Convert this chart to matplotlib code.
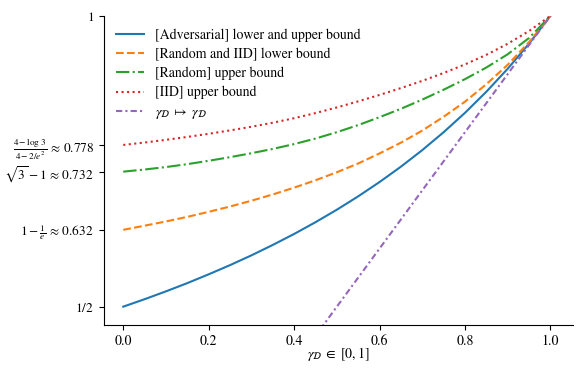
import numpy as np
import matplotlib
matplotlib.use("Agg")
import matplotlib.pyplot as plt

plt.rcParams['font.family'] = ['STIXGeneral', 'DejaVu Serif']
plt.rcParams['mathtext.fontset'] = 'stix'
plt.rcParams['font.size'] = 10

gamma = [0.0, 0.05, 0.1, 0.15, 0.2, 0.25, 0.3, 0.35, 0.4, 0.45, 0.5,
         0.55, 0.6, 0.65, 0.7, 0.75, 0.8, 0.85, 0.9, 0.95, 1.0]

# curve values
adversarial = [0.5000, 0.5128, 0.5263, 0.5405, 0.5556, 0.5714, 0.5882, 0.6061, 0.6250, 0.6452, 0.6667,
               0.6897, 0.7143, 0.7407, 0.7692, 0.8000, 0.8333, 0.8696, 0.9091, 0.9524, 1.0000]
random_iid_lower = [0.6321, 0.6392, 0.6465, 0.6544, 0.6630, 0.6722, 0.6821, 0.6929, 0.7046, 0.7173, 0.7311,
                    0.7462, 0.7635, 0.7820, 0.8028, 0.8265, 0.8525, 0.8825, 0.9160, 0.9550, 1.0000]
random_upper = [0.7321, 0.7358, 0.7400, 0.7450, 0.7508, 0.7570, 0.7638, 0.7712, 0.7795, 0.7890, 0.8000,
                0.8122, 0.8258, 0.8402, 0.8560, 0.8730, 0.8912, 0.9112, 0.9340, 0.9620, 1.0000]
iid_upper = [0.7780, 0.7822, 0.7868, 0.7918, 0.7972, 0.8030, 0.8093, 0.8162, 0.8240, 0.8328, 0.8425,
             0.8530, 0.8640, 0.8758, 0.8882, 0.9018, 0.9165, 0.9330, 0.9520, 0.9740, 1.0000]

# identity line
ident_x = [0.4, 1.0]
ident_y = [0.4, 1.0]

ytick_vals = [0.5, 1 - 1/np.e, np.sqrt(3) - 1, 0.778, 1.0]
ytick_labels = [r'$1/2$', r'$1-\frac{1}{e}\,\approx\,0.632$', r'$\sqrt{3}-1\,\approx\,0.732$',
                r'$\frac{4-\log\,3}{4-2/e^2}\,\approx\,0.778$', r'$1$']

fig = plt.figure(figsize=(5.82, 3.77), dpi=100)
ax = fig.add_axes([0.178, 0.138, 0.806, 0.82])

ax.plot(gamma, adversarial, color='C0', linestyle='-', linewidth=1.5,
        label='[Adversarial] lower and upper bound')
ax.plot(gamma, random_iid_lower, color='C1', linestyle='--', linewidth=1.5,
        label='[Random and IID] lower bound')
ax.plot(gamma, random_upper, color='C2', linestyle='-.', linewidth=1.5,
        label='[Random] upper bound')
ax.plot(gamma, iid_upper, color='C3', linestyle=':', linewidth=1.5,
        label='[IID] upper bound')
ax.plot(ident_x, ident_y, color='C4', linestyle=(0, (3, 1.5, 1, 1.5)), linewidth=1.5,
        label=r'$\gamma_{\mathcal{D}} \;\mapsto\; \gamma_{\mathcal{D}}$')

ax.set_xlim(-0.046, 1.052)
ax.set_ylim(0.4685, 1.0)
ax.set_yticks(ytick_vals)
ax.set_yticklabels(ytick_labels, fontsize=9.5)
ax.set_xlabel(r'$\gamma_{\mathcal{D}} \;\in\; [0,1]$', labelpad=-2)

ax.spines['top'].set_visible(False)
ax.spines['right'].set_visible(False)

ax.legend(loc='upper left', frameon=False, bbox_to_anchor=(0.0, 1.0), labelspacing=0.42)

fig.savefig('out.png', dpi=100)
